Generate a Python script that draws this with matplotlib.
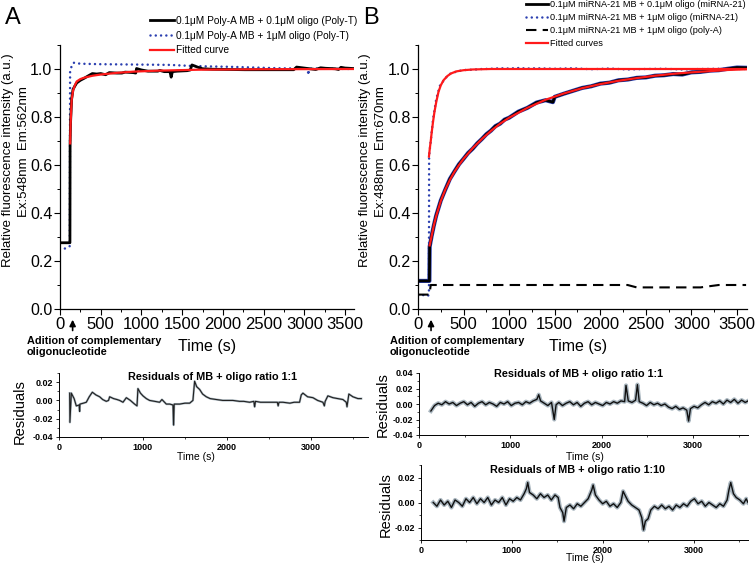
import matplotlib
matplotlib.use('Agg')
import matplotlib.pyplot as plt
from matplotlib.ticker import MultipleLocator, FormatStrFormatter

plt.rcParams['font.family'] = ['Liberation Sans', 'DejaVu Sans']
plt.rcParams['axes.unicode_minus'] = False

# ---------------- Data: panel A ----------------
a_black_t = [0, 122, 124, 130, 143, 160, 184, 205, 250, 300, 350, 397, 450, 500, 560, 605, 700, 760,
             800, 900, 930, 940, 1000, 1080, 1200, 1226, 1280, 1350, 1365, 1380, 1440, 1560, 1600,
             1620, 1680, 1750, 1870, 2070, 2270, 2470, 2670, 2870, 2905, 3020, 3140, 3200, 3260,
             3380, 3420, 3450, 3500, 3600]
a_black_y = [0.276, 0.276, 0.69, 0.78, 0.875, 0.915, 0.93, 0.942, 0.953, 0.962, 0.972, 0.981, 0.979,
             0.981, 0.976, 0.985, 0.983, 0.983, 0.987, 0.985, 0.983, 1.002, 0.996, 0.991, 0.991,
             0.994, 0.989, 0.989, 0.966, 0.989, 0.991, 0.993, 0.996, 1.017, 1.009, 1.001, 0.999,
             0.998, 0.997, 0.997, 0.997, 0.997, 1.008, 1.003, 0.998, 1.005, 1.003, 1.001, 0.998,
             1.007, 1.004, 1.002]

a_blue_t = [60, 120, 124, 150, 172, 250, 500, 800, 1100, 1350, 1600, 1800, 2100, 2400, 2700, 3000,
            3040, 3050, 3060, 3100, 3600]
a_blue_y = [0.252, 0.262, 0.99, 1.02, 1.026, 1.022, 1.02, 1.019, 1.018, 1.017, 1.013, 1.011, 1.009,
            1.006, 1.003, 1.002, 1.0, 0.975, 1.0, 1.002, 1.0]

a_fit_t = [125, 130, 143, 160, 184, 205, 250, 300, 400, 500, 700, 900, 1200, 1700, 2500, 3600]
a_fit_y = [0.69, 0.77, 0.87, 0.91, 0.933, 0.948, 0.958, 0.964, 0.972, 0.977, 0.984, 0.989, 0.993,
           0.997, 0.999, 1.0]

a_res_t = [127, 130, 147, 180, 206, 240, 246, 250, 290, 325, 360, 397, 440, 484, 520, 563, 590, 603,
           650, 690, 722, 762, 802, 850, 900, 929, 940, 970, 1000, 1040, 1079, 1140, 1198, 1226, 1278,
           1320, 1357, 1365, 1372, 1400, 1437, 1500, 1556, 1595, 1615, 1640, 1675, 1710, 1754, 1800,
           1873, 1950, 2000, 2071, 2150, 2200, 2270, 2320, 2330, 2340, 2400, 2468, 2550, 2600, 2610,
           2620, 2667, 2750, 2800, 2865, 2885, 2905, 2960, 3024, 3080, 3143, 3160, 3170, 3202, 3262,
           3320, 3381, 3421, 3430, 3452, 3500, 3560, 3600]
a_res_y = [0.008, -0.024, 0.008, 0.002, -0.006, -0.005, -0.012, -0.004, -0.003, -0.002, 0.004, 0.009,
           0.006, 0.004, 0.001, -0.001, 0.000, 0.004, 0.002, 0.001, 0.000, -0.002, 0.003, 0.000,
           -0.004, -0.006, 0.013, 0.008, 0.005, 0.002, 0.000, -0.001, -0.002, 0.001, -0.004, -0.004,
           -0.005, -0.027, -0.004, -0.004, -0.004, -0.003, -0.003, 0.000, 0.021, 0.015, 0.012, 0.007,
           0.004, 0.002, 0.001, 0.000, 0.000, 0.000, -0.001, -0.001, -0.002, -0.001, -0.007, -0.001,
           -0.002, -0.002, -0.002, -0.002, -0.006, -0.002, -0.002, -0.003, -0.002, -0.002, 0.006,
           0.008, 0.004, 0.003, 0.000, -0.002, -0.006, -0.001, 0.005, 0.003, 0.002, 0.001, -0.002,
           -0.007, 0.007, 0.004, 0.002, 0.002]

# ---------------- Data: panel B ----------------
b_black_t = [0, 125, 128, 150, 175, 200, 250, 300, 350, 400, 450, 500, 550, 600, 650, 700, 750, 800,
             850, 900, 950, 1000, 1100, 1200, 1300, 1400, 1480, 1500, 1600, 1700, 1800, 1900, 2000,
             2100, 2200, 2300, 2400, 2500, 2600, 2700, 2800, 2900, 3000, 3100, 3200, 3300, 3400,
             3500, 3600]
b_black_y = [0.117, 0.117, 0.26, 0.305, 0.35, 0.39, 0.452, 0.498, 0.542, 0.573, 0.603, 0.626, 0.65,
             0.668, 0.69, 0.708, 0.728, 0.743, 0.762, 0.772, 0.789, 0.797, 0.822, 0.838, 0.86, 0.87,
             0.862, 0.884, 0.897, 0.909, 0.921, 0.928, 0.939, 0.943, 0.953, 0.956, 0.963, 0.965,
             0.972, 0.974, 0.979, 0.977, 0.986, 0.988, 0.993, 0.995, 1.001, 1.006, 1.005]

b_blue_t = [0, 60, 110, 120, 122, 140, 165, 200, 240, 300, 360, 450, 520, 600, 700, 800, 900, 1000,
            1100, 1200, 1300, 1500, 1700, 1900, 2100, 2300, 2500, 2700, 2900, 3100, 3300, 3600]
b_blue_y = [0.055, 0.058, 0.055, 0.06, 0.64, 0.70, 0.79, 0.875, 0.93, 0.962, 0.982, 0.992, 0.996,
            0.997, 1.0, 1.001, 1.003, 1.002, 1.004, 1.002, 1.003, 1.001, 1.003, 0.999, 1.002, 0.998,
            1.0, 1.001, 0.998, 1.0, 1.001, 1.0]

b_dash_t = [0, 120, 125, 140, 2300, 2400, 3100, 3300, 3600]
b_dash_y = [0.06, 0.06, 0.06, 0.10, 0.10, 0.09, 0.09, 0.10, 0.10]

b_fit1_t = [128, 150, 175, 200, 250, 300, 350, 400, 450, 500, 600, 700, 800, 900, 1000, 1200, 1400,
            1600, 1800, 2000, 2200, 2400, 2600, 2800, 3000, 3200, 3400, 3600]
b_fit1_y = [0.265, 0.305, 0.35, 0.388, 0.45, 0.498, 0.538, 0.572, 0.60, 0.626, 0.67, 0.708, 0.742,
            0.772, 0.797, 0.838, 0.872, 0.898, 0.92, 0.937, 0.951, 0.962, 0.972, 0.98, 0.986, 0.991,
            0.996, 0.999]

b_fit2_t = [120, 130, 140, 150, 165, 180, 200, 225, 250, 280, 320, 360, 420, 500, 600, 800, 3600]
b_fit2_y = [0.635, 0.67, 0.70, 0.735, 0.78, 0.82, 0.862, 0.905, 0.932, 0.953, 0.97, 0.981, 0.99,
            0.995, 0.998, 1.0, 1.0]

b_res1_t = [130, 170, 210, 250, 290, 330, 370, 410, 450, 490, 530, 570, 610, 650, 690, 730, 770, 810,
            850, 890, 930, 970, 1010, 1050, 1090, 1130, 1170, 1210, 1250, 1290, 1310, 1330, 1370,
            1410, 1450, 1480, 1500, 1530, 1570, 1610, 1650, 1690, 1730, 1770, 1810, 1850, 1890,
            1930, 1970, 2010, 2050, 2090, 2130, 2170, 2210, 2250, 2265, 2290, 2330, 2370, 2390,
            2410, 2450, 2490, 2530, 2570, 2610, 2650, 2690, 2730, 2770, 2810, 2850, 2890, 2930,
            2950, 2970, 3010, 3050, 3090, 3130, 3170, 3210, 3250, 3290, 3330, 3370, 3410, 3450,
            3490, 3530, 3570, 3600]
b_res1_y = [-0.009, -0.002, 0.001, -0.001, 0.003, 0.000, 0.002, -0.002, 0.001, 0.003, -0.001, 0.002,
            -0.003, 0.001, 0.003, -0.001, 0.002, 0.000, -0.003, 0.002, 0.000, 0.003, -0.002, 0.001,
            0.002, -0.001, 0.003, 0.001, 0.004, 0.006, 0.012, 0.004, 0.001, -0.002, 0.002, -0.020,
            -0.001, 0.002, -0.002, 0.001, 0.003, -0.001, 0.002, -0.003, 0.001, 0.003, -0.001, 0.002,
            0.000, -0.002, 0.002, 0.000, 0.003, 0.001, 0.004, 0.003, 0.024, 0.004, 0.002, 0.005,
            0.025, 0.003, 0.001, -0.002, 0.002, -0.001, 0.001, -0.002, 0.000, -0.004, -0.006, -0.003,
            -0.007, -0.005, -0.008, -0.022, -0.006, -0.003, -0.005, -0.001, 0.002, -0.001, 0.003,
            0.001, 0.004, 0.000, 0.005, 0.002, 0.006, 0.001, 0.005, 0.002, 0.004]

b_res2_t = [135, 175, 215, 255, 295, 335, 375, 415, 455, 495, 535, 575, 615, 655, 695, 735, 775, 815,
            855, 895, 935, 975, 1015, 1055, 1095, 1135, 1160, 1175, 1195, 1235, 1275, 1315, 1355,
            1395, 1435, 1475, 1510, 1530, 1560, 1575, 1600, 1640, 1680, 1720, 1760, 1800, 1840, 1880,
            1895, 1920, 1960, 2000, 2040, 2080, 2120, 2160, 2200, 2225, 2245, 2280, 2320, 2360, 2400,
            2430, 2450, 2470, 2500, 2530, 2570, 2610, 2650, 2690, 2730, 2770, 2810, 2850, 2890, 2930,
            2970, 3010, 3050, 3090, 3130, 3170, 3210, 3250, 3290, 3330, 3370, 3390, 3410, 3440, 3470,
            3510, 3550, 3580, 3600]
b_res2_y = [0.000, -0.003, 0.002, -0.002, 0.001, -0.004, 0.002, 0.000, -0.003, 0.003, 0.000, 0.004,
            -0.001, 0.003, 0.000, 0.004, -0.002, 0.002, 0.000, 0.004, -0.002, 0.003, 0.001, 0.004,
            0.002, 0.007, 0.011, 0.016, 0.008, 0.006, 0.003, 0.007, 0.004, 0.006, 0.002, 0.006, 0.004,
            -0.004, -0.008, -0.015, -0.004, -0.002, -0.005, -0.001, -0.003, 0.000, 0.003, 0.010,
            0.014, 0.006, 0.002, -0.001, 0.001, -0.003, -0.001, -0.004, 0.000, 0.009, 0.006, 0.001,
            -0.002, -0.004, -0.006, -0.012, -0.022, -0.015, -0.013, -0.006, -0.003, -0.005, -0.002,
            -0.005, -0.003, -0.006, -0.002, -0.004, -0.001, -0.003, 0.001, 0.003, -0.001, 0.001,
            -0.003, 0.000, -0.002, -0.004, -0.001, -0.003, 0.002, 0.010, 0.016, 0.007, 0.004, 0.002,
            -0.001, 0.003, 0.000]

legend_a = ['0.1\u03bcM Poly-A MB + 0.1\u03bcM oligo (Poly-T)',
            '0.1\u03bcM Poly-A MB + 1\u03bcM oligo (Poly-T)',
            'Fitted curve']
legend_b = ['0.1\u03bcM miRNA-21 MB + 0.1\u03bcM oligo (miRNA-21)',
            '0.1\u03bcM miRNA-21 MB + 1\u03bcM oligo (miRNA-21)',
            '0.1\u03bcM miRNA-21 MB + 1\u03bcM oligo (poly-A)',
            'Fitted curves']

# ---------------- Figure ----------------
W, H = 756, 568
fig = plt.figure(figsize=(W / 100, H / 100), dpi=100)


def rect(l, t, r, b):
    return [l / W, 1 - b / H, (r - l) / W, (b - t) / H]


def fx(x):
    return x / W


def fy(y):
    return 1 - y / H


BLUE = '#2b3fb0'
RED = '#ff1a1a'
DOT = (0, (0.01, 2.1))


def style_main(ax):
    ax.set_xlim(0, 3610)
    ax.set_ylim(0, 1.1)
    for s in ['top', 'right']:
        ax.spines[s].set_visible(False)
    for s in ['left', 'bottom']:
        ax.spines[s].set_linewidth(0.9)
    ax.xaxis.set_major_locator(MultipleLocator(500))
    ax.xaxis.set_minor_locator(MultipleLocator(250))
    ax.yaxis.set_major_locator(MultipleLocator(0.2))
    ax.yaxis.set_minor_locator(MultipleLocator(0.1))
    ax.yaxis.set_major_formatter(FormatStrFormatter('%.1f'))
    ax.tick_params(which='major', direction='out', length=4, width=0.8, labelsize=12, pad=2)
    ax.tick_params(axis='y', which='major', labelsize=11.5, pad=1.5)
    ax.tick_params(which='minor', direction='out', length=2.5, width=0.7)


def style_res(ax, ylim, ymaj, xlim):
    ax.set_xlim(*xlim)
    ax.set_ylim(*ylim)
    for s in ['top', 'right']:
        ax.spines[s].set_visible(False)
    for s in ['left', 'bottom']:
        ax.spines[s].set_linewidth(0.7)
    ax.xaxis.set_major_locator(MultipleLocator(1000))
    ax.xaxis.set_minor_locator(MultipleLocator(500))
    ax.yaxis.set_major_locator(MultipleLocator(ymaj))
    ax.yaxis.set_minor_locator(MultipleLocator(ymaj / 2))
    ax.yaxis.set_major_formatter(FormatStrFormatter('%.2f'))
    ax.tick_params(which='major', direction='out', length=2.5, width=0.6, labelsize=6.5, pad=1.5)
    ax.tick_params(which='minor', direction='out', length=1.5, width=0.5)
    for lab in ax.get_xticklabels() + ax.get_yticklabels():
        lab.set_fontweight('bold')


# ---- Panel A main ----
axA = fig.add_axes(rect(60, 45, 354, 309))
style_main(axA)
lA1, = axA.plot(a_black_t, a_black_y, color='black', lw=2.0, zorder=3)
lA2, = axA.plot(a_blue_t, a_blue_y, color=BLUE, lw=1.8, linestyle=DOT, dash_capstyle='round', zorder=2)
lA3, = axA.plot(a_fit_t, a_fit_y, color=RED, lw=1.6, zorder=4)
fig.legend([lA1, lA2, lA3], legend_a, loc='upper left', bbox_to_anchor=(fx(150), fy(16)),
           frameon=False, fontsize=7.3, handlelength=2.4, handletextpad=0.2, labelspacing=0.45,
           borderpad=0, borderaxespad=0)

# ---- Panel B main ----
axB = fig.add_axes(rect(418, 45, 747, 309))
style_main(axB)
axB.plot(b_black_t, b_black_y, color=BLUE, lw=3.0, zorder=2)
lB1, = axB.plot(b_black_t, b_black_y, color='black', lw=2.0, zorder=3)
lB2, = axB.plot(b_blue_t, b_blue_y, color=BLUE, lw=1.8, linestyle=DOT, dash_capstyle='round', zorder=2)
lB3, = axB.plot(b_dash_t, b_dash_y, color='black', lw=1.5, linestyle=(0, (5, 3)), zorder=3)
lB4, = axB.plot(b_fit1_t, b_fit1_y, color=RED, lw=1.6, zorder=4)
axB.plot(b_fit2_t, b_fit2_y, color=RED, lw=1.6, zorder=4)
fig.legend([lB1, lB2, lB3, lB4], legend_b, loc='upper left', bbox_to_anchor=(fx(526), fy(0)),
           frameon=False, fontsize=6.6, handlelength=2.4, handletextpad=0.2, labelspacing=0.45,
           borderpad=0, borderaxespad=0)

# y labels and x labels (main)
for x1, x2, em in [(8, 24, 'Ex:548nm  Em:562nm'), (365, 381, 'Ex:488nm  Em:670nm')]:
    fig.text(fx(x1), fy(160), 'Relative fluorescence intensity (a.u.)', rotation=90,
             ha='center', va='center', fontsize=9.5)
    fig.text(fx(x2), fy(152), em, rotation=90, ha='center', va='center', fontsize=9.5)
fig.text(fx(207), fy(347), 'Time (s)', ha='center', va='center', fontsize=11.5)
fig.text(fx(578), fy(347), 'Time (s)', ha='center', va='center', fontsize=11.5)

# arrows + addition note
for ax, t_arr, xt in [(axA, 155, 27), (axB, 143, 390)]:
    ax.annotate('', xy=(t_arr, -0.03), xytext=(t_arr, -0.092),
                xycoords=ax.get_xaxis_transform(), textcoords=ax.get_xaxis_transform(),
                arrowprops=dict(arrowstyle='-|>', color='black', lw=1.2, mutation_scale=9),
                annotation_clip=False)
    fig.text(fx(xt), fy(336), 'Adition of complementary\noligonucleotide', ha='left', va='top',
             fontsize=7.8, fontweight='bold', linespacing=1.15)

# panel letters
fig.text(fx(5), fy(18), 'A', ha='left', va='center', fontsize=17)
fig.text(fx(363), fy(18), 'B', ha='left', va='center', fontsize=17)

# ---- Residual panels ----
GREY = '#a9b6bf'
axR1 = fig.add_axes(rect(59, 373, 368, 437))
style_res(axR1, (-0.04, 0.03), 0.02, (0, 3680))
axR1.plot(a_res_t, a_res_y, color=GREY, lw=1.6)
axR1.plot(a_res_t, a_res_y, color='#202020', lw=0.8)

axR2 = fig.add_axes(rect(419, 373, 748, 435))
style_res(axR2, (-0.04, 0.04), 0.02, (0, 3600))
axR2.plot(b_res1_t, b_res1_y, color=GREY, lw=3.0)
axR2.plot(b_res1_t, b_res1_y, color='#101010', lw=1.0)

axR3 = fig.add_axes(rect(421, 465, 748, 540))
style_res(axR3, (-0.03, 0.03), 0.02, (0, 3600))
axR3.plot(b_res2_t, b_res2_y, color=GREY, lw=3.0)
axR3.plot(b_res2_t, b_res2_y, color='#101010', lw=1.0)

for x, y, s in [(212, 377, 'Residuals of MB + oligo ratio 1:1'),
                (578, 374, 'Residuals of MB + oligo ratio 1:1'),
                (578, 470, 'Residuals of MB + oligo ratio 1:10')]:
    fig.text(fx(x), fy(y), s, ha='center', va='center', fontsize=7.8, fontweight='bold')

for x, y in [(196, 457), (585, 457), (585, 558)]:
    fig.text(fx(x), fy(y), 'Time (s)', ha='center', va='center', fontsize=7.5)

for x, y in [(20, 412), (383, 405), (386, 505)]:
    fig.text(fx(x), fy(y), 'Residuals', rotation=90, ha='center', va='center', fontsize=10.5)

fig.savefig('out.png', dpi=100)
